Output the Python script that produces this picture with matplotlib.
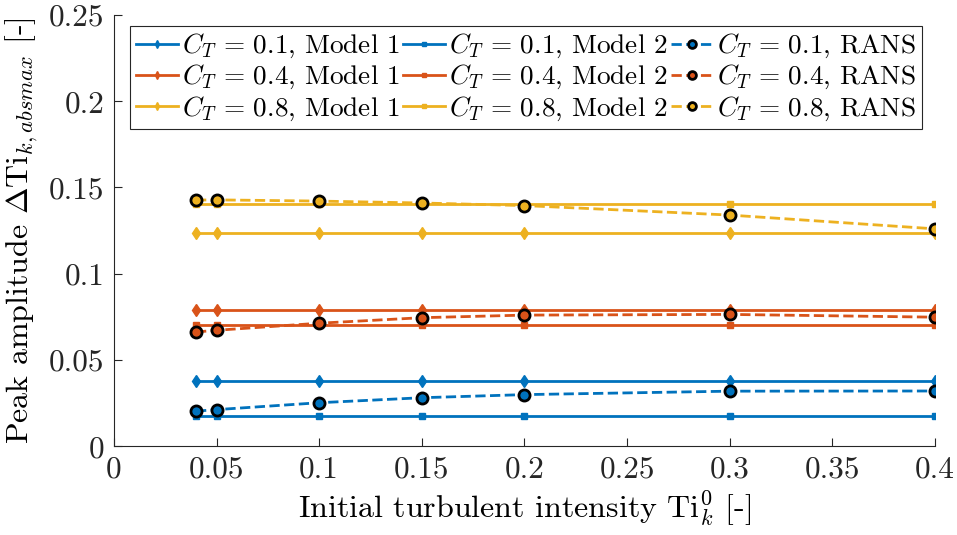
import numpy as np
import matplotlib
matplotlib.use("Agg")
import matplotlib.pyplot as plt

plt.rcParams['font.family'] = 'serif'
plt.rcParams['font.serif'] = ['cmr10', 'DejaVu Serif']
plt.rcParams['mathtext.fontset'] = 'cm'
plt.rcParams['axes.unicode_minus'] = False
plt.rcParams['axes.formatter.use_mathtext'] = True

# initial turbulent intensity
ti0 = np.array([0.04, 0.05, 0.1, 0.15, 0.2, 0.3, 0.4])
ct_values = ["0.1", "0.4", "0.8"]

# Model 1 (constant)
model1_01 = np.array([0.0377] * 7)
model1_04 = np.array([0.0790] * 7)
model1_08 = np.array([0.1235] * 7)

# Model 2 (constant)
model2_01 = np.array([0.0174] * 7)
model2_04 = np.array([0.0702] * 7)
model2_08 = np.array([0.1402] * 7)

# RANS
rans_01 = np.array([0.0203, 0.0212, 0.0252, 0.0281, 0.0299, 0.0319, 0.0320])
rans_04 = np.array([0.0662, 0.0672, 0.0713, 0.0745, 0.0760, 0.0764, 0.0748])
rans_08 = np.array([0.1427, 0.1428, 0.1421, 0.1410, 0.1395, 0.1340, 0.1260])

colors = ['#0072BD', '#D95319', '#EDB120']

fig = plt.figure(figsize=(9.57, 5.35), dpi=100)
ax = fig.add_axes([0.119, 0.166, 0.858, 0.806])

h1, h2, h3 = [], [], []
for c, ct, m1, m2, r in zip(colors, ct_values,
                            [model1_01, model1_04, model1_08],
                            [model2_01, model2_04, model2_08],
                            [rans_01, rans_04, rans_08]):
    l1, = ax.plot(ti0, m1, '-', marker='d', color=c, lw=2, ms=6,
                  label=r'$C_T \,=\, %s$, Model 1' % ct)
    l2, = ax.plot(ti0, m2, '-', marker='s', color=c, lw=2, ms=5,
                  label=r'$C_T \,=\, %s$, Model 2' % ct)
    l3, = ax.plot(ti0, r, '--', marker='o', color=c, lw=2, ms=8,
                  mec='k', mew=2, label=r'$C_T \,=\, %s$, RANS' % ct)
    h1.append(l1); h2.append(l2); h3.append(l3)

ax.set_xlim(0, 0.4)
ax.set_ylim(0, 0.25)
ax.set_xticks(np.arange(0, 0.401, 0.05))
ax.set_yticks(np.arange(0, 0.251, 0.05))
ax.set_xticklabels(['0', '0.05', '0.1', '0.15', '0.2', '0.25', '0.3', '0.35', '0.4'])
ax.set_yticklabels(['0', '0.05', '0.1', '0.15', '0.2', '0.25'])
ax.tick_params(direction='in', labelsize=22.5, colors='#262626', length=6, pad=7)
for s in ['top', 'right']:
    ax.spines[s].set_visible(False)
for s in ['left', 'bottom']:
    ax.spines[s].set_color('#262626')

ax.set_xlabel(r'Initial turbulent intensity $\mathrm{Ti}_k^0$ [-]', fontsize=23, labelpad=4)
ax.set_ylabel(r'Peak amplitude $\Delta\mathrm{Ti}_{k,absmax}$ [-]', fontsize=23, labelpad=6)

leg = ax.legend(handles=h1 + h2 + h3, ncol=3, loc='upper center',
                bbox_to_anchor=(0.502, 0.9745), borderaxespad=0,
                fontsize=19.6, handlelength=1.55,
                handletextpad=0.15, columnspacing=0.1, borderpad=0.22,
                labelspacing=0.1, fancybox=False, edgecolor='#262626',
                framealpha=1, markerscale=0.7)
leg.get_frame().set_linewidth(0.8)

fig.savefig('out.png', dpi=100)
